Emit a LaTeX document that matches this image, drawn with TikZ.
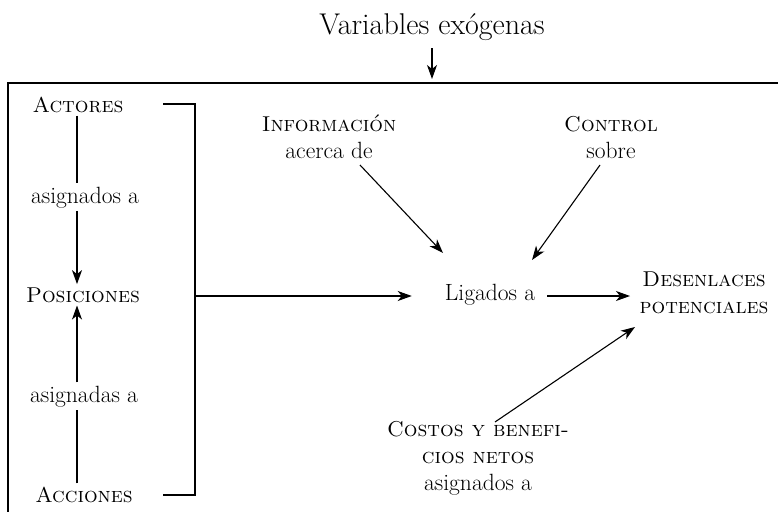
\documentclass[tikz,border=0pt]{standalone}
\usetikzlibrary{arrows.meta}
\newcommand\scx[1]{{\fontsize{21.5}{27}\selectfont\textsc{#1}}}
\begin{document}
\begin{tikzpicture}[x=1pt,y=-1pt,
  lbl/.style={font=\fontsize{23.5}{27}\selectfont, inner sep=3pt, align=center, anchor=base},
  arr/.style={-{Stealth[length=14pt,width=10pt,inset=4pt]}, line width=1.1pt},
  ln/.style={line width=1.1pt}]
\useasboundingbox (0,0) rectangle (778,511);
\clip (0,0) rectangle (778,511);
% frame
\draw[ln] (8,530) -- (8,83) -- (800,83);
% title
\node[lbl, font=\fontsize{30}{34}\selectfont] (exo) at (432,35) {Variables exógenas};
\coordinate (boxtop) at (432,79);
\draw[arr] (exo.south) ++(0,4) coordinate (exos) (exos) -- (boxtop);
% left column
\coordinate (lx) at (77,0);
\node[lbl] (act) at (78,112) {\scx{Actores}};
\node[lbl] (asg1) at (85,203) {asignados a};
\node[lbl] (pos) at (83,302) {\scx{Posiciones}};
\node[lbl] (asg2) at (84,402) {asignadas a};
\node[lbl] (acc) at (84,502) {\scx{Acciones}};
\draw[ln] (act.south -| lx) -- (asg1.north -| lx);
\draw[arr] (asg1.south -| lx) -- (pos.north -| lx);
\draw[arr] (asg2.north -| lx) -- (pos.south -| lx);
\draw[ln] (acc.north -| lx) -- (asg2.south -| lx);
% bracket
\coordinate (b1) at (163,104);
\coordinate (b2) at (195,104);
\coordinate (b3) at (195,495);
\coordinate (b4) at (163,495);
\coordinate (bm) at (195,296);
\draw[ln] (b1) -- (b2) -- (b3) -- (b4);
% center
\node[lbl] (lig) at (490,300) {Ligados a};
\draw[arr, shorten >=30pt] (bm) -- (bm -| lig.west);
\node[lbl] (info) at (329,158) {\scx{Información}\\acerca de};
\node[lbl] (ctrl) at (611,158) {\scx{Control}\\sobre};
\node[lbl] (des) at (704,313) {\scx{Desenlaces}\\\scx{potenciales}};
\node[lbl] (cost) at (478,490) {\scx{Costos y benefi-}\\\scx{cios netos}\\asignados a};
\coordinate (i1) at (360,165);
\coordinate (i2) at (443,253);
\coordinate (c1) at (600,165);
\coordinate (c2) at (532,260);
\coordinate (k1) at (495,422);
\coordinate (k2) at (635,327);
\coordinate (l1) at (547,296);
\coordinate (l2) at (630,296);
\draw[arr] (i1) -- (i2);
\draw[arr] (c1) -- (c2);
\draw[arr] (k1) -- (k2);
\draw[arr] (l1) -- (l2);
\end{tikzpicture}
\end{document}
